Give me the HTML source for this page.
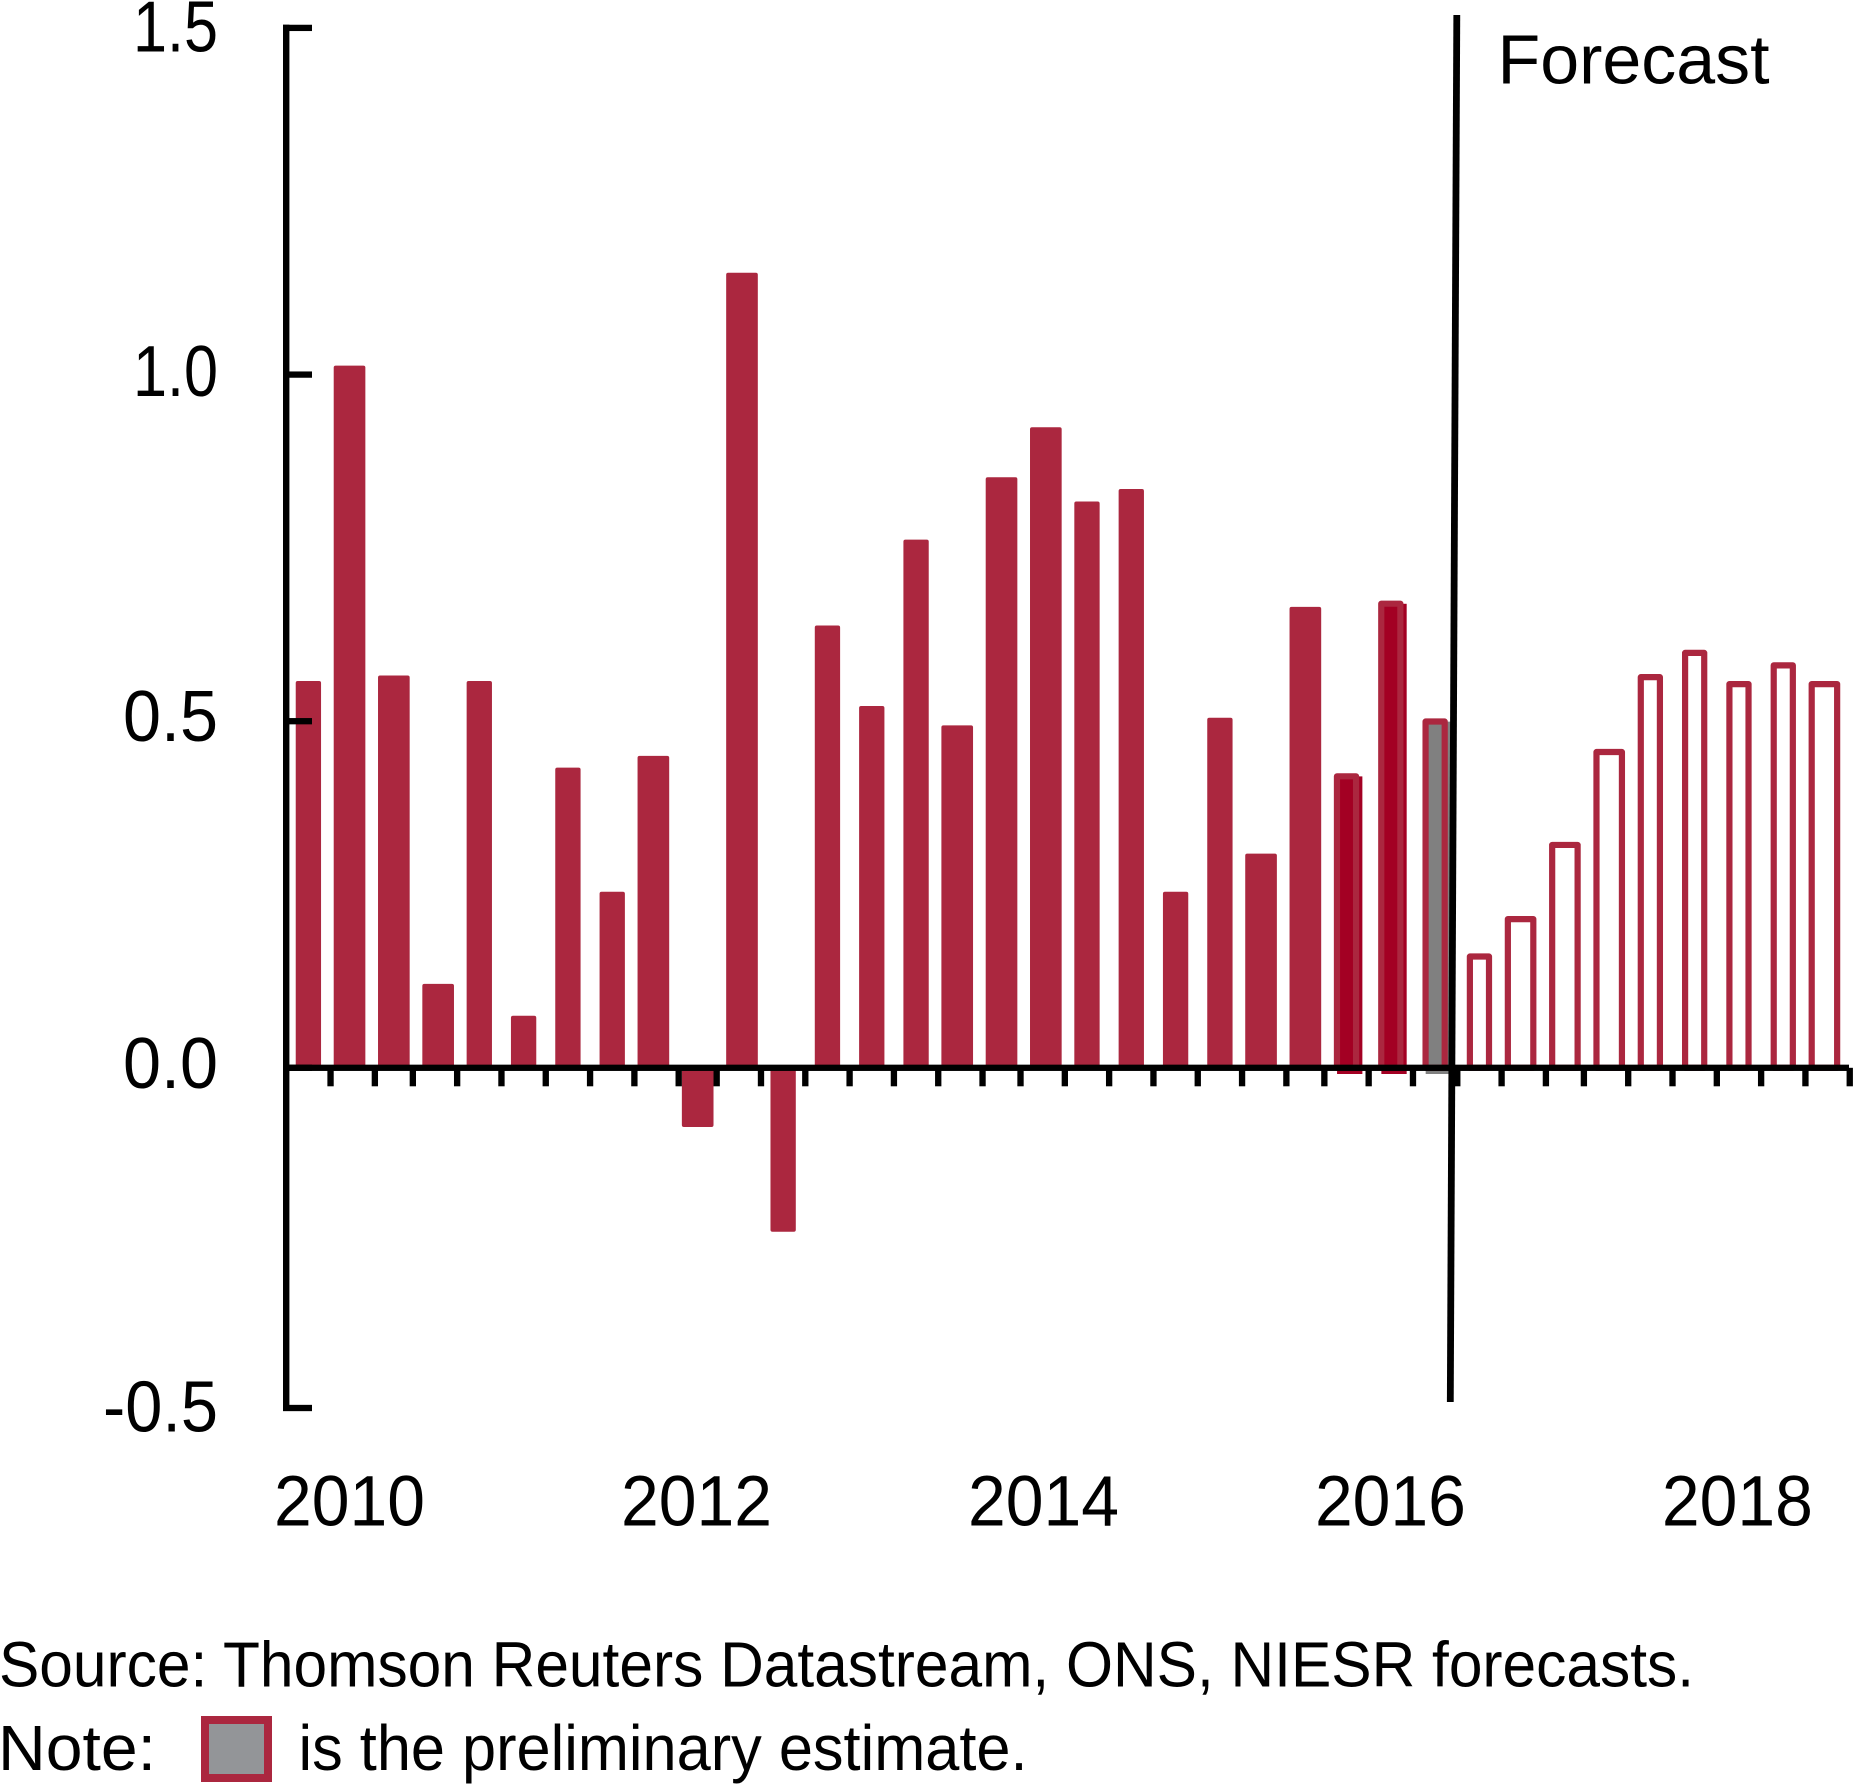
<!DOCTYPE html>
<html lang="en">
<head>
<meta charset="utf-8">
<title>Quarterly GDP growth with forecast</title>
<style>
html,body{margin:0;padding:0;background:#fff;}
svg{display:block;}
text{font-family:"Liberation Sans",sans-serif;fill:#000;}
</style>
</head>
<body>
<svg id="chart" xmlns="http://www.w3.org/2000/svg" width="1853" height="1786" viewBox="0 0 1853 1786">
  <g id="bars"></g>
  <g id="axes"></g>
  <line x1="1456.8" y1="15" x2="1450.3" y2="1402" stroke="#000" stroke-width="6.8"></line>
  <text x="1497.5" y="83.3" font-size="70" textLength="272" lengthAdjust="spacingAndGlyphs">Forecast</text>
  <text x="-1" y="1686.7" font-size="64" textLength="1695" lengthAdjust="spacingAndGlyphs">Source: Thomson Reuters Datastream, ONS, NIESR forecasts.</text>
  <text x="-2" y="1770" font-size="64" textLength="158" lengthAdjust="spacingAndGlyphs">Note:</text>
  <rect x="205" y="1720" width="63" height="58" fill="#939598" stroke="#AB273F" stroke-width="8"></rect>
  <text x="298.5" y="1770" font-size="64" textLength="729" lengthAdjust="spacingAndGlyphs">is the preliminary estimate.</text>
</svg>
<script>
const categories = [
  '2010Q1','2010Q2','2010Q3','2010Q4','2011Q1','2011Q2','2011Q3','2011Q4',
  '2012Q1','2012Q2','2012Q3','2012Q4','2013Q1','2013Q2','2013Q3','2013Q4',
  '2014Q1','2014Q2','2014Q3','2014Q4','2015Q1','2015Q2','2015Q3','2015Q4',
  '2016Q1','2016Q2','2016Q3','2016Q4','2017Q1','2017Q2','2017Q3','2017Q4',
  '2018Q1','2018Q2','2018Q3','2018Q4'
];
const outturnValues = [
  0.558, 1.013, 0.566, 0.121, 0.558, 0.075, 0.433, 0.254,
  0.450, -0.087, 1.147, -0.241, 0.638, 0.522, 0.762, 0.494,
  0.852, 0.924, 0.817, 0.835, 0.254, 0.505, 0.309, 0.665
];
const revisedValues = [0.425, 0.674];
const preliminaryValues = [0.504];
const forecastValues = [0.165, 0.219, 0.326, 0.460, 0.568, 0.603, 0.558, 0.585, 0.558];
const yTickValues = [1.5, 1.0, 0.5, 0.0, -0.5];
const yTickLabels = ['1.5', '1.0', '0.5', '0.0', '-0.5'];
const yearLabels = ['2010', '2012', '2014', '2016', '2018'];
const yearLabelQuarters = [0, 8, 16, 24, 32];

const NS = 'http://www.w3.org/2000/svg';
const barsLayer = document.getElementById('bars');
const axesLayer = document.getElementById('axes');
const BAR = '#AB273F';
const DARK = '#A30023';
const GREY = '#808080';

/* x axis: the source artwork snaps every edge onto a coarse grid */
const gridOrigin = 289.4, gridUnit = 6.33, quarterStep = 6.8519;
function gridX(cell) { return gridOrigin + gridUnit * cell; }
function barLeft(i) { return gridX(Math.round(i * quarterStep + 0.6256)); }
function barRight(i) { return gridX(Math.round(i * quarterStep + 5.0332)); }
function tickLeft(i) { return gridX(Math.round(i * quarterStep + 5.79)); }
function yearCentre(q) { return gridOrigin + gridUnit * q * quarterStep + 60.1; }

/* y axis: the negative half of the source axis is slightly compressed */
const zeroY = 1067.8;
function y(v) { return v >= 0 ? zeroY - 693.2 * v : zeroY - 680.4 * v; }
function labelDrop(v) { return (v === 0 || v === 0.5) ? 20 : (v === 1 ? 21.5 : 23.4); }
function labelWidth(s) { return s.length > 3 ? 115 : (s.charAt(0) === '1' ? 85 : 95); }

function makeRect(parent, x, yy, w, h, fill) {
  const r = document.createElementNS(NS, 'rect');
  r.setAttribute('x', x);
  r.setAttribute('y', yy);
  r.setAttribute('width', w);
  r.setAttribute('height', h);
  r.setAttribute('fill', fill);
  parent.appendChild(r);
  return r;
}

function drawSolid(i, v) {
  const top = Math.min(y(v), zeroY), bottom = Math.max(y(v), zeroY);
  const el = makeRect(barsLayer, barLeft(i), top, barRight(i) - barLeft(i), bottom - top, BAR);
  el.setAttribute('rx', 2);
  
  
}

function drawOutlined(i, v, fill, offsetFill, prefix) {
  const l = barLeft(i), r = barRight(i), t = y(v), sw = 6.2;
  if (offsetFill) {
    const under = makeRect(barsLayer, l + 3.2, t + 3.2, r - l, 1074 - t - 3.2, offsetFill);
    
    
  }
  const el = makeRect(barsLayer, l + sw / 2, t + sw / 2, r - l - sw, zeroY - t - sw / 2, fill);
  el.setAttribute('stroke', BAR);
  el.setAttribute('stroke-width', sw);
  el.setAttribute('stroke-linejoin', 'round');
  
  
}

outturnValues.forEach(function (v, k) { drawSolid(k, v); });
let cursor = outturnValues.length;
revisedValues.forEach(function (v, k) { drawOutlined(cursor + k, v, 'none', DARK, 'revised-bar'); });
cursor += revisedValues.length;
preliminaryValues.forEach(function (v, k) { drawOutlined(cursor + k, v, 'none', GREY, 'preliminary-bar'); });
cursor += preliminaryValues.length;
forecastValues.forEach(function (v, k) { drawOutlined(cursor + k, v, '#fff', null, 'forecast-bar'); });

/* axes */
const xAxis = makeRect(axesLayer, 283, zeroY - 3.15, 1566, 6.3, '#000');



const yAxis = makeRect(axesLayer, 283, 24.7, 6.4, 1386.3, '#000');



categories.forEach(function (c, i) {
  const t = makeRect(axesLayer, tickLeft(i), zeroY, gridUnit, 18.5, '#000');
  
  
});

yTickValues.forEach(function (v, k) {
  const py = v === -0.5 ? 1408 : (v === 1.5 ? 27.9 : y(v));
  const t = makeRect(axesLayer, 283, py - 3.15, 29, 6.3, '#000');
  
  
  const lab = document.createElementNS(NS, 'text');
  lab.setAttribute('x', 218);
  lab.setAttribute('y', py + labelDrop(v));
  lab.setAttribute('font-size', 72);
  lab.setAttribute('text-anchor', 'end');
  lab.setAttribute('textLength', labelWidth(yTickLabels[k]));
  lab.setAttribute('lengthAdjust', 'spacingAndGlyphs');
  
  
  lab.textContent = yTickLabels[k];
  axesLayer.appendChild(lab);
});

yearLabels.forEach(function (label, k) {
  const lab = document.createElementNS(NS, 'text');
  lab.setAttribute('x', yearCentre(yearLabelQuarters[k]));
  lab.setAttribute('y', 1525.7);
  lab.setAttribute('font-size', 71);
  lab.setAttribute('text-anchor', 'middle');
  lab.setAttribute('textLength', 151);
  lab.setAttribute('lengthAdjust', 'spacingAndGlyphs');
  
  
  lab.textContent = label;
  axesLayer.appendChild(lab);
});
</script>
</body>
</html>
